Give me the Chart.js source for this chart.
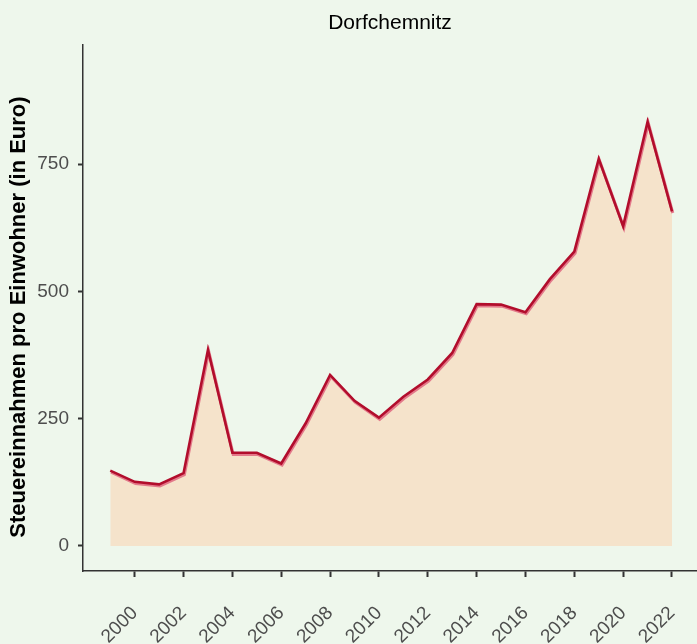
<!DOCTYPE html>
<html>
<head>
<meta charset="utf-8">
<script src="https://cdn.jsdelivr.net/npm/chart.js@4/dist/chart.umd.min.js"></script>
<style>
html,body{margin:0;padding:0;background:#EEF7EC;}
#wrap{width:697px;height:644px;position:relative;}
</style>
</head>
<body>
<div id="wrap"><canvas id="c" width="697" height="644"></canvas></div>
<script>
const titleText = "Dorfchemnitz";
const yAxisTitle = "Steuereinnahmen pro Einwohner (in Euro)";
const years = [1999,2000,2001,2002,2003,2004,2005,2006,2007,2008,2009,2010,2011,2012,2013,2014,2015,2016,2017,2018,2019,2020,2021,2022];
const values = [148,126,121,143,385,183,183,162,241,336,285,252,293,327,379,475,474,459,524,578,760,628,833,657];
const xTicks = [2000,2002,2004,2006,2008,2010,2012,2014,2016,2018,2020,2022];
const yTicks = [0,250,500,750];

const pts = years.map((y,i)=>({x:y,y:values[i]}));
const FONT = "'Liberation Sans', Arial, sans-serif";

const shadowPlugin = {
  id:'shadowOffset',
  beforeDatasetDraw(chart,args){
    if(args.index===1){chart.ctx.save();chart.ctx.translate(0.8,1.6);}
  },
  afterDatasetDraw(chart,args){
    if(args.index===1){chart.ctx.restore();}
  }
};
const textPlugin = {
  id:'texts',
  afterDraw(chart){
    const ctx=chart.ctx; const a=chart.chartArea;
    ctx.save();
    ctx.fillStyle='#000';
    ctx.font="21px "+FONT;
    ctx.textAlign='center'; ctx.textBaseline='middle';
    ctx.fillText(titleText,(a.left+a.right)/2,23);
    ctx.translate(19,317);
    ctx.rotate(-Math.PI/2);
    ctx.font="bold 22px "+FONT;
    ctx.fillText(yAxisTitle,0,0);
    ctx.restore();
  }
};

new Chart(document.getElementById('c'),{
  type:'line',
  data:{datasets:[
    {data:pts,borderColor:'#B20D2C',borderWidth:2.6,pointRadius:0,fill:false,tension:0},
    {data:pts,borderColor:'#E3798A',borderWidth:3,pointRadius:0,fill:false,tension:0},
    {data:pts,borderWidth:0,borderColor:'rgba(0,0,0,0)',backgroundColor:'#F5E3CB',pointRadius:0,fill:'origin',tension:0}
  ]},
  options:{
    responsive:false,animation:false,
    layout:{padding:{top:45,left:0,right:0,bottom:0}},
    plugins:{legend:{display:false},tooltip:{enabled:false},title:{display:false}},
    scales:{
      x:{type:'linear',min:1997.883,max:2023.024,
        afterBuildTicks(s){s.ticks=xTicks.map(v=>({value:v}));},
        afterFit(s){s.height=73;s.paddingLeft=0;s.paddingRight=0;},
        grid:{display:true,drawOnChartArea:false,drawTicks:true,tickLength:6,tickColor:'#333',tickWidth:2},
        border:{display:true,color:'#333',width:1.5},
        ticks:{minRotation:45,maxRotation:45,padding:25,color:'#4D4D4D',font:{family:FONT,size:19},autoSkip:false,callback:v=>String(v)}
      },
      y:{type:'linear',min:-49.1,max:983.7,
        afterBuildTicks(s){s.ticks=yTicks.map(v=>({value:v}));},
        afterFit(s){s.width=83;s.paddingTop=0;s.paddingBottom=0;},
        grid:{display:true,drawOnChartArea:false,drawTicks:true,tickLength:5,tickColor:'#333',tickWidth:2},
        border:{display:true,color:'#333',width:1.5},
        ticks:{padding:9,color:'#4D4D4D',font:{family:FONT,size:19},callback:v=>String(v)}
      }
    }
  },
  plugins:[shadowPlugin,textPlugin]
});
</script>
</body>
</html>
